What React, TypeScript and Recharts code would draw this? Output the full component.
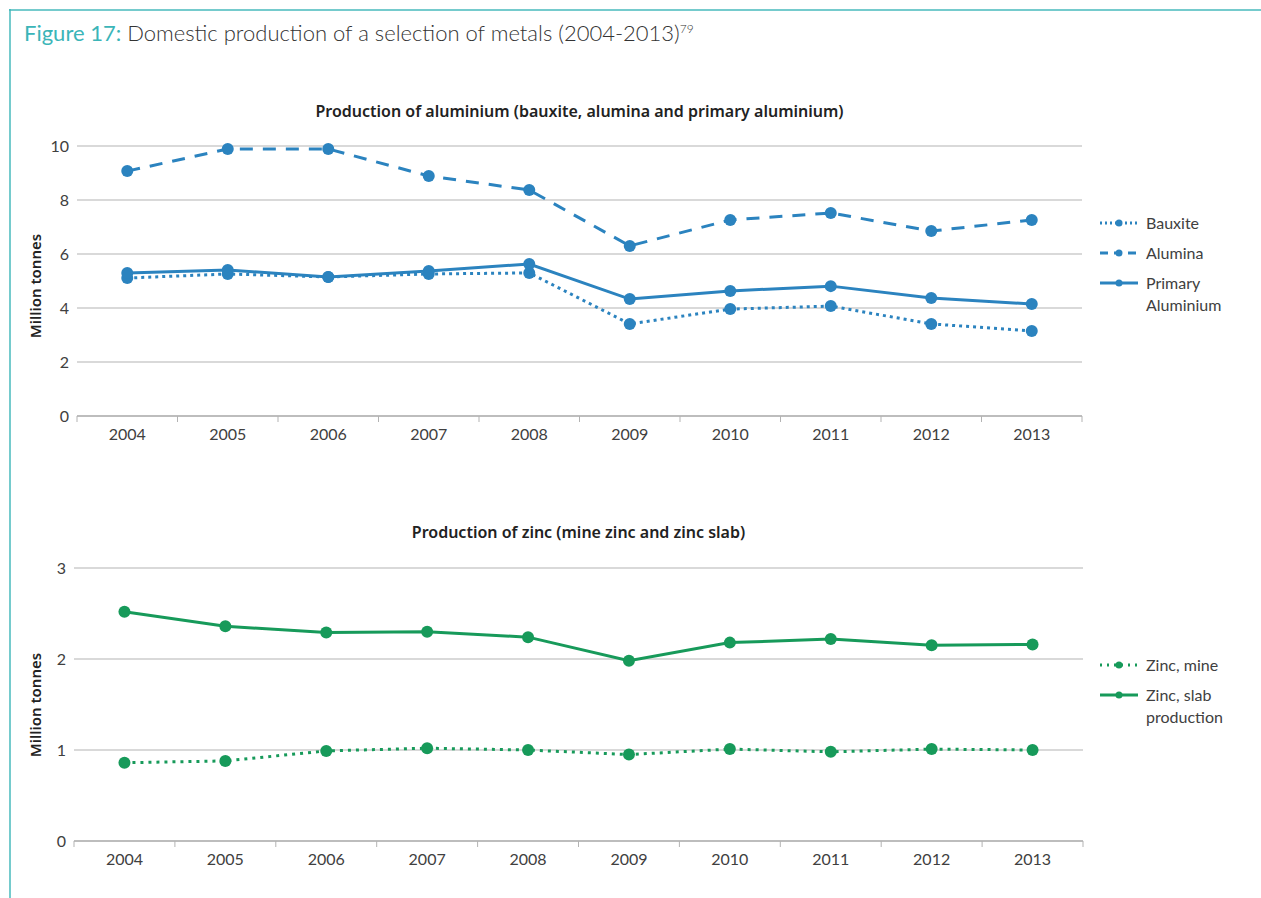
import React from "react";
import { LineChart, Line, XAxis, YAxis, CartesianGrid } from "recharts";

const years = ["2004", "2005", "2006", "2007", "2008", "2009", "2010", "2011", "2012", "2013"];
const bauxite = [5.11, 5.26, 5.15, 5.26, 5.3, 3.41, 3.96, 4.07, 3.41, 3.15];
const alumina = [9.07, 9.89, 9.89, 8.89, 8.37, 6.3, 7.26, 7.52, 6.85, 7.26];
const primaryAluminium = [5.3, 5.41, 5.15, 5.37, 5.63, 4.33, 4.63, 4.81, 4.37, 4.15];
const zincMine = [0.86, 0.88, 0.99, 1.02, 1.0, 0.95, 1.01, 0.98, 1.01, 1.0];
const zincSlab = [2.52, 2.36, 2.29, 2.3, 2.24, 1.98, 2.18, 2.22, 2.15, 2.16];
const aluTicks = [0, 2, 4, 6, 8, 10];
const zincTicks = [0, 1, 2, 3];

const aluData = years.map((y, i) => ({
  year: y,
  bauxite: bauxite[i],
  alumina: alumina[i],
  primary: primaryAluminium[i],
}));
const zincData = years.map((y, i) => ({ year: y, mine: zincMine[i], slab: zincSlab[i] }));

const BLUE = "#2b83bf";
const GREEN = "#179a5a";
const GRID = "#b3b3b3";
const TEXT = "#404040";
const TEAL = "#3bb5b8";
const FONT = "Lato, 'Noto Sans', sans-serif";
const SUBFONT = "'Noto Sans', sans-serif";

const makeTick = (plotWidth: number, n: number) => (props: any) => {
  const { x, y, payload, index } = props;
  const bw = plotWidth / n;
  return (
    <g>
      <line x1={x - bw / 2} x2={x - bw / 2} y1={y - 8} y2={y - 2} stroke={GRID} strokeWidth={1} />
      {index === n - 1 && (
        <line x1={x + bw / 2} x2={x + bw / 2} y1={y - 8} y2={y - 2} stroke={GRID} strokeWidth={1} />
      )}
      <text x={x} y={y + 16} textAnchor="middle" fill={TEXT} fontSize={16} fontFamily={FONT}>
        {payload.value}
      </text>
    </g>
  );
};

const LegendItem = ({ color, dash, lines, top }: any) => (
  <div style={{ position: "absolute", left: 1098, top, display: "flex", alignItems: "flex-start" }}>
    <svg width={42} height={20} style={{ marginTop: 1 }}>
      <line x1={2} x2={40} y1={10} y2={10} stroke={color} strokeWidth={3} strokeDasharray={dash} />
      <circle cx={21} cy={10} r={3.5} fill={color} />
    </svg>
    <div style={{ marginLeft: 6, fontSize: 16, lineHeight: "22px", color: TEXT, fontFamily: FONT }}>
      {lines.map((l: string, i: number) => (
        <div key={i}>{l}</div>
      ))}
    </div>
  </div>
);

const aluPlotW = 1082 - 77;
const zincPlotW = 1083 - 74;
const nCat = years.length;

export default function App() {
  const aluTick = makeTick(aluPlotW, nCat);
  const zincTick = makeTick(zincPlotW, nCat);
  const aluPad = aluPlotW / nCat / 2;
  const zincPad = zincPlotW / nCat / 2;
  return (
    <div
      style={{
        position: "absolute",
        left: 0,
        top: 0,
        width: 1261,
        height: 898,
        background: "#fff",
        fontFamily: FONT,
        overflow: "hidden",
      }}
    >
      <div style={{ position: "absolute", left: 9, top: 9, width: 1252, height: 2, background: TEAL, opacity: 0.7 }} />
      <div style={{ position: "absolute", left: 9, top: 9, width: 2, height: 889, background: TEAL, opacity: 0.7 }} />
      <div
        style={{
          position: "absolute",
          left: 24,
          top: 19,
          fontSize: 22,
          color: "#333",
          whiteSpace: "nowrap",
          fontWeight: 300,
        }}
      >
        <span style={{ color: TEAL, fontWeight: 400 }}>Figure 17:</span> Domestic production of a selection of metals
        (2004-2013)<sup style={{ fontSize: 12 }}>79</sup>
      </div>

      <div
        style={{
          position: "absolute",
          left: 77,
          width: 1005,
          top: 100,
          textAlign: "center",
          fontSize: 16,
          fontWeight: 600,
          color: "#222",
          fontFamily: SUBFONT,
        }}
      >
        Production of aluminium (bauxite, alumina and primary aluminium)
      </div>
      <div
        style={{
          position: "absolute",
          left: 74,
          width: 1009,
          top: 521,
          textAlign: "center",
          fontSize: 16,
          fontWeight: 600,
          color: "#222",
          fontFamily: SUBFONT,
        }}
      >
        Production of zinc (mine zinc and zinc slab)
      </div>

      <div
        style={{
          position: "absolute",
          left: 35,
          top: 286,
          transform: "translate(-50%, -50%) rotate(-90deg)",
          fontSize: 15,
          fontWeight: 600,
          color: "#222",
          whiteSpace: "nowrap",
          fontFamily: SUBFONT,
        }}
      >
        Million tonnes
      </div>
      <div
        style={{
          position: "absolute",
          left: 35,
          top: 705,
          transform: "translate(-50%, -50%) rotate(-90deg)",
          fontSize: 15,
          fontWeight: 600,
          color: "#222",
          whiteSpace: "nowrap",
          fontFamily: SUBFONT,
        }}
      >
        Million tonnes
      </div>

      <div style={{ position: "absolute", left: 0, top: 100 }}>
        <LineChart width={1261} height={360} data={aluData} margin={{ top: 46, right: 179, left: 47, bottom: 14 }}>
          <CartesianGrid vertical={false} stroke={GRID} strokeWidth={1.2} />
          <XAxis
            dataKey="year"
            axisLine={{ stroke: GRID, strokeWidth: 1.5 }}
            tickLine={false}
            tick={aluTick}
            height={30}
            interval={0}
            padding={{ left: aluPad, right: aluPad }}
          />
          <YAxis
            domain={[0, 10]}
            ticks={aluTicks}
            axisLine={false}
            tickLine={false}
            width={30}
            tick={{ fill: TEXT, fontSize: 16, fontFamily: FONT }}
          />
          <Line
            dataKey="bauxite"
            stroke={BLUE}
            strokeWidth={3}
            strokeDasharray="3 4"
            dot={{ r: 6, fill: BLUE, stroke: BLUE, strokeWidth: 0 }}
            isAnimationActive={false}
          />
          <Line
            dataKey="alumina"
            stroke={BLUE}
            strokeWidth={3}
            strokeDasharray="13 10"
            dot={{ r: 6, fill: BLUE, stroke: BLUE, strokeWidth: 0 }}
            isAnimationActive={false}
          />
          <Line
            dataKey="primary"
            stroke={BLUE}
            strokeWidth={3}
            dot={{ r: 6, fill: BLUE, stroke: BLUE, strokeWidth: 0 }}
            isAnimationActive={false}
          />
        </LineChart>
      </div>

      <div style={{ position: "absolute", left: 0, top: 520 }}>
        <LineChart width={1261} height={360} data={zincData} margin={{ top: 48, right: 178, left: 44, bottom: 9 }}>
          <CartesianGrid vertical={false} stroke={GRID} strokeWidth={1.2} />
          <XAxis
            dataKey="year"
            axisLine={{ stroke: GRID, strokeWidth: 1.5 }}
            tickLine={false}
            tick={zincTick}
            height={30}
            interval={0}
            padding={{ left: zincPad, right: zincPad }}
          />
          <YAxis
            domain={[0, 3]}
            ticks={zincTicks}
            axisLine={false}
            tickLine={false}
            width={30}
            tick={{ fill: TEXT, fontSize: 16, fontFamily: FONT }}
          />
          <Line
            dataKey="mine"
            stroke={GREEN}
            strokeWidth={3}
            strokeDasharray="3 5"
            dot={{ r: 6, fill: GREEN, stroke: GREEN, strokeWidth: 0 }}
            isAnimationActive={false}
          />
          <Line
            dataKey="slab"
            stroke={GREEN}
            strokeWidth={3}
            dot={{ r: 6, fill: GREEN, stroke: GREEN, strokeWidth: 0 }}
            isAnimationActive={false}
          />
        </LineChart>
      </div>

      <LegendItem color={BLUE} dash="2 3" lines={["Bauxite"]} top={212} />
      <LegendItem color={BLUE} dash="8 6" lines={["Alumina"]} top={242} />
      <LegendItem color={BLUE} dash="" lines={["Primary", "Aluminium"]} top={272} />
      <LegendItem color={GREEN} dash="2 5" lines={["Zinc, mine"]} top={654} />
      <LegendItem color={GREEN} dash="" lines={["Zinc, slab", "production"]} top={684} />
    </div>
  );
}
